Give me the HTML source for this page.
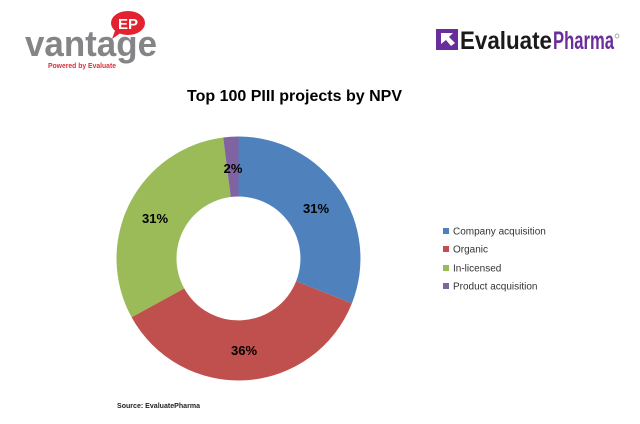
<!DOCTYPE html>
<html><head><meta charset="utf-8"><style>
html,body{margin:0;padding:0;background:#fff;}
svg{display:block;}
</style></head><body>
<svg width="640" height="424" viewBox="0 0 640 424" xmlns="http://www.w3.org/2000/svg">
<rect width="640" height="424" fill="#fff"/>
<!-- vantage logo -->
<ellipse cx="128" cy="23" rx="17" ry="12" fill="#e2232f"/>
<polygon points="116,28 122,32 112,39" fill="#e2232f"/>
<text x="128" y="29" font-family="Liberation Sans, sans-serif" font-weight="bold" font-size="15" fill="#fff" text-anchor="middle">EP</text>
<text x="25" y="56" font-family="Liberation Sans, sans-serif" font-weight="bold" font-size="36" fill="#858588" textLength="132" lengthAdjust="spacingAndGlyphs">vantage</text>
<text x="48" y="68" font-family="Liberation Sans, sans-serif" font-weight="bold" font-size="7.5" fill="#d9303c" textLength="68" lengthAdjust="spacingAndGlyphs">Powered by Evaluate</text>
<!-- EvaluatePharma logo -->
<rect x="436" y="29" width="22" height="21" fill="#6a2d9c"/>
<polygon points="441,33 453,33 449,37 455,43 451,46 446,40 441,44" fill="#fff"/>
<text x="460" y="49" font-family="Liberation Sans, sans-serif" font-weight="bold" font-size="25" fill="#1a1a1a" textLength="92" lengthAdjust="spacingAndGlyphs">Evaluate</text>
<text x="553" y="49" font-family="Liberation Sans, sans-serif" font-weight="bold" font-size="25" fill="#6a2d9c" textLength="61" lengthAdjust="spacingAndGlyphs">Pharma</text>
<circle cx="617" cy="36" r="2" fill="none" stroke="#888" stroke-width="0.7"/>
<!-- title -->
<text x="294.5" y="101" font-family="Liberation Sans, sans-serif" font-weight="bold" font-size="16" fill="#000" text-anchor="middle" textLength="215" lengthAdjust="spacingAndGlyphs">Top 100 PIII projects by NPV</text>
<!-- donut -->
<g>
<path d="M238.5,136.5 A122,122 0 0 1 351.9,303.4 L296.1,281.3 A62,62 0 0 0 238.5,196.5 Z" fill="#4f81bd"/>
<path d="M351.9,303.4 A122,122 0 0 1 131.6,317.3 L184.2,288.4 A62,62 0 0 0 296.1,281.3 Z" fill="#c0504d"/>
<path d="M131.6,317.3 A122,122 0 0 1 223.2,137.5 L230.7,197.0 A62,62 0 0 0 184.2,288.4 Z" fill="#9bbb59"/>
<path d="M223.2,137.5 A122,122 0 0 1 238.5,136.5 L238.5,196.5 A62,62 0 0 0 230.7,197.0 Z" fill="#8064a2"/>
</g>
<g font-family="Liberation Sans, sans-serif" font-weight="bold" font-size="13" fill="#000" text-anchor="middle">
<text x="316" y="213">31%</text>
<text x="233" y="173">2%</text>
<text x="155" y="223">31%</text>
<text x="244" y="355">36%</text>
</g>
<!-- legend -->
<g font-family="Liberation Sans, sans-serif" font-size="10" fill="#333">
<rect x="443" y="228" width="6" height="6" fill="#4f81bd"/>
<text x="453" y="234.5">Company acquisition</text>
<rect x="443" y="246" width="6" height="6" fill="#c0504d"/>
<text x="453" y="252.5">Organic</text>
<rect x="443" y="265" width="6" height="6" fill="#9bbb59"/>
<text x="453" y="271.5">In-licensed</text>
<rect x="443" y="283" width="6" height="6" fill="#8064a2"/>
<text x="453" y="289.5">Product acquisition</text>
</g>
<text x="117" y="408" font-family="Liberation Sans, sans-serif" font-weight="bold" font-size="7.5" fill="#222" textLength="83" lengthAdjust="spacingAndGlyphs">Source: EvaluatePharma</text>
</svg>
</body></html>
